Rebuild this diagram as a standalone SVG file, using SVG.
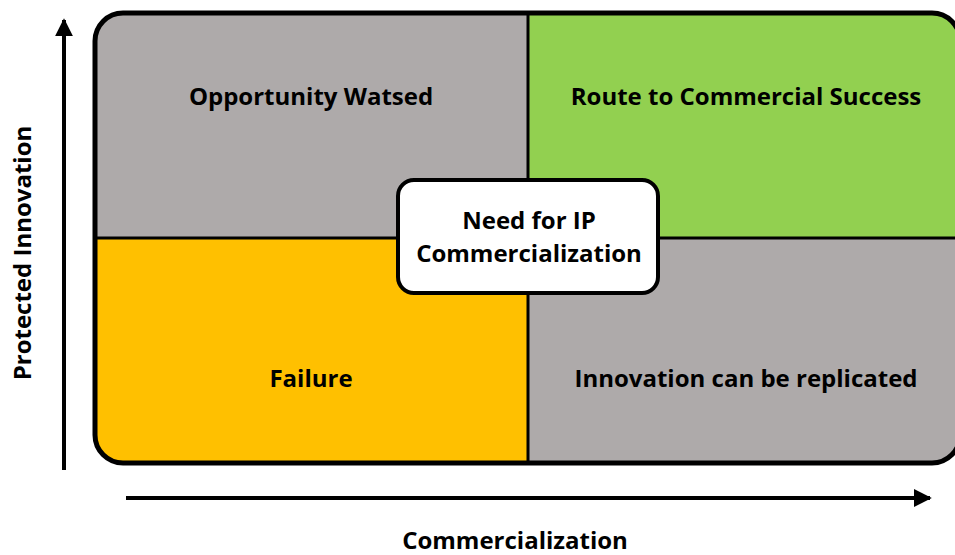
<svg xmlns="http://www.w3.org/2000/svg" width="955" height="555" viewBox="0 0 955 555">
<style>
.lbl{font-family:"Open Sans","Liberation Sans",sans-serif;font-weight:bold;font-size:24px;fill:#000;text-anchor:middle}
.ax{stroke:#000;stroke-width:4;fill:none}
</style>
<defs>
<clipPath id="c"><rect x="95" y="13" width="865" height="450" rx="28"/></clipPath>
<marker id="ah" viewBox="0 0 10 10" refX="9" refY="5" markerWidth="4.5" markerHeight="4.5" orient="auto" markerUnits="strokeWidth"><path d="M0,0 L10,5 L0,10 Z" fill="#000"/></marker>
</defs>
<g id="quadrants" clip-path="url(#c)">
<g id="q-tl"><rect x="95" y="13" width="433" height="225" fill="#AEAAAA"/><text class="lbl" x="311" y="105">Opportunity Watsed</text></g>
<g id="q-tr"><rect x="528" y="13" width="432" height="225" fill="#92D050"/><text class="lbl" x="746" y="105">Route to Commercial Success</text></g>
<g id="q-bl"><rect x="95" y="238" width="433" height="225" fill="#FFC000"/><text class="lbl" x="311" y="387">Failure</text></g>
<g id="q-br"><rect x="528" y="238" width="432" height="225" fill="#AEAAAA"/><text class="lbl" x="746" y="387">Innovation can be replicated</text></g>
<path d="M528,13 V463 M95,238 H960" stroke="#000" stroke-width="3"/>
</g>
<rect x="95" y="13" width="865" height="450" rx="28" fill="none" stroke="#000" stroke-width="5"/>
<g id="center">
<rect x="398" y="180" width="260" height="113" rx="16" fill="#fff" stroke="#000" stroke-width="4"/>
<text class="lbl" x="529" y="229">Need for IP</text>
<text class="lbl" x="529" y="262">Commercialization</text>
</g>
<g id="connectors">
<line class="ax" x1="64" y1="470" x2="64" y2="20" marker-end="url(#ah)"/>
<line class="ax" x1="126" y1="498" x2="930" y2="498" marker-end="url(#ah)"/>
</g>
<g id="axis-labels">
<text class="lbl" x="0" y="0" transform="translate(31,253) rotate(-90)">Protected Innovation</text>
<text class="lbl" x="515" y="549">Commercialization</text>
</g>
</svg>
